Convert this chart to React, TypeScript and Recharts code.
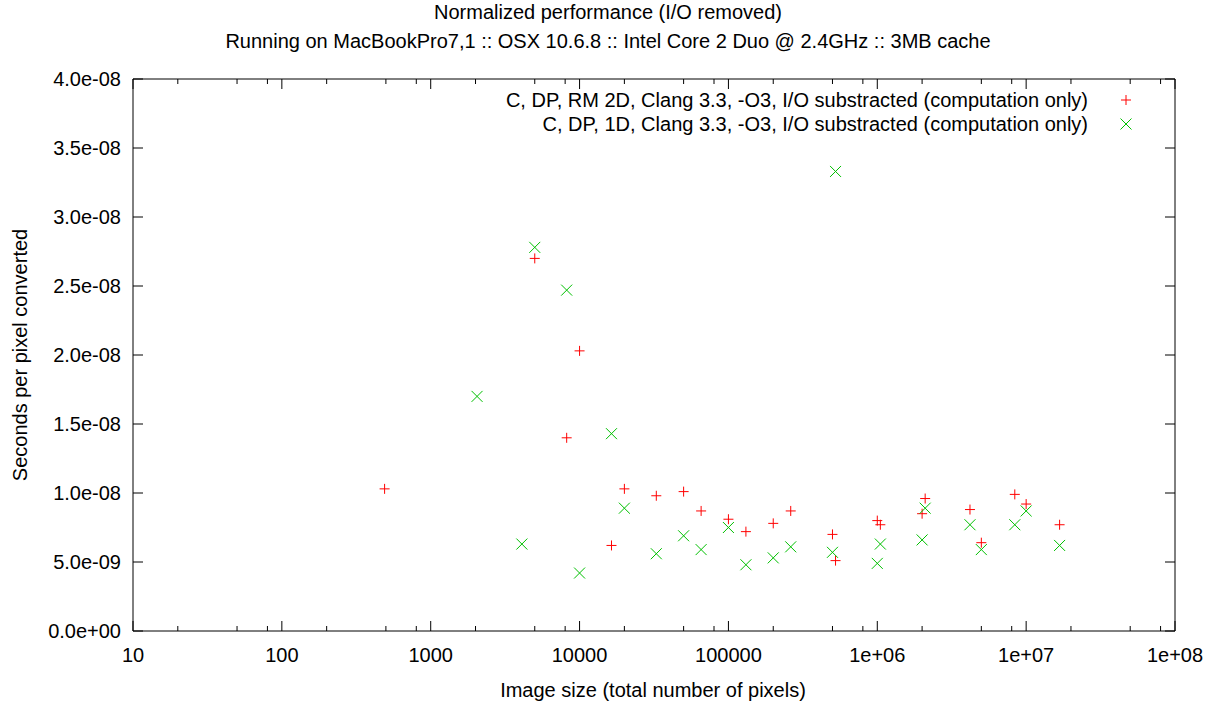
import { Legend, ReferenceArea, Scatter, ScatterChart, XAxis, YAxis } from "recharts";

const TITLE = "Normalized performance (I/O removed)";
const SUBTITLE = "Running on MacBookPro7,1 :: OSX 10.6.8 :: Intel Core 2 Duo @ 2.4GHz :: 3MB cache";
const X_LABEL = "Image size (total number of pixels)";
const Y_LABEL = "Seconds per pixel converted";

const SERIES_NAMES = [
  "C, DP, RM 2D, Clang 3.3, -O3, I/O substracted (computation only)",
  "C, DP, 1D, Clang 3.3, -O3, I/O substracted (computation only)",
];

// RM 2D run
const rm2dSizes = [
  490, 5000, 8192, 10000, 16384, 20000, 32768, 50000, 65536, 100000, 131072, 200000, 262144, 500000,
  524288, 1000000, 1048576, 2000000, 2097152, 4194304, 5000000, 8388608, 10000000, 16777216,
];
const rm2dSeconds = [
  1.03e-8, 2.7e-8, 1.4e-8, 2.03e-8, 6.2e-9, 1.03e-8, 9.8e-9, 1.01e-8, 8.7e-9, 8.1e-9, 7.2e-9, 7.8e-9,
  8.7e-9, 7.0e-9, 5.1e-9, 8.0e-9, 7.7e-9, 8.5e-9, 9.6e-9, 8.8e-9, 6.4e-9, 9.9e-9, 9.2e-9, 7.7e-9,
];

// 1D run
const oneDSizes = [
  2048, 4096, 5000, 8192, 10000, 16384, 20000, 32768, 50000, 65536, 100000, 131072, 200000, 262144,
  500000, 524288, 1000000, 1048576, 2000000, 2097152, 4194304, 5000000, 8388608, 10000000, 16777216,
];
const oneDSeconds = [
  1.7e-8, 6.3e-9, 2.78e-8, 2.47e-8, 4.2e-9, 1.43e-8, 8.9e-9, 5.6e-9, 6.9e-9, 5.9e-9, 7.5e-9, 4.8e-9,
  5.3e-9, 6.1e-9, 5.7e-9, 3.33e-8, 4.9e-9, 6.3e-9, 6.6e-9, 8.9e-9, 7.7e-9, 5.9e-9, 7.7e-9, 8.7e-9,
  6.2e-9,
];

const xMajorTicks = [10, 100, 1000, 10000, 100000, 1000000, 10000000, 100000000];
const xTickLabels = ["10", "100", "1000", "10000", "100000", "1e+06", "1e+07", "1e+08"];
const xMinorSteps = [2, 5, 8];
const yTicks = [0, 5e-9, 1e-8, 1.5e-8, 2e-8, 2.5e-8, 3e-8, 3.5e-8, 4e-8];
const yTickLabels = [
  "0.0e+00", "5.0e-09", "1.0e-08", "1.5e-08", "2.0e-08", "2.5e-08", "3.0e-08", "3.5e-08", "4.0e-08",
];

const rm2dData = rm2dSizes.map((x, i) => ({ x, y: rm2dSeconds[i] }));
const oneDData = oneDSizes.map((x, i) => ({ x, y: oneDSeconds[i] }));
const xTicks = [
  ...xMajorTicks,
  ...xMajorTicks.slice(0, -1).flatMap((d) => xMinorSteps.map((m) => m * d)),
].sort((a, b) => a - b);

const W = 1216;
const H = 704;
// axes get 1px of room each (CartesianAxis skips drawing at 0)
const MARGIN = { top: 79, right: 41, bottom: 72, left: 132 };
const PLOT_W = W - MARGIN.left - 1 - MARGIN.right;
const PLOT_H = H - MARGIN.top - MARGIN.bottom - 1;
const RED = "#ff0000";
const GREEN = "#00c000";
const FONT = "'Liberation Sans', Arial, Helvetica, sans-serif";

function PlusMark({ cx, cy }: any) {
  return <path d={`M${cx - 5},${cy}H${cx + 5}M${cx},${cy - 5}V${cy + 5}`} stroke={RED} strokeWidth={1} fill="none" />;
}

function CrossMark({ cx, cy }: any) {
  return (
    <path
      d={`M${cx - 5.5},${cy - 5.5}L${cx + 5.5},${cy + 5.5}M${cx - 5.5},${cy + 5.5}L${cx + 5.5},${cy - 5.5}`}
      stroke={GREEN}
      strokeWidth={1}
      fill="none"
    />
  );
}

function XTick({ x, y, payload }: any) {
  const idx = xMajorTicks.indexOf(payload.value);
  const len = idx >= 0 ? 10 : 5;
  return (
    <g>
      <line x1={x} x2={x} y1={y} y2={y - len} stroke="#000" />
      <line x1={x} x2={x} y1={y - PLOT_H} y2={y - PLOT_H + len} stroke="#000" />
      {idx >= 0 && (
        <text x={x} y={y + 31} textAnchor="middle" fontFamily={FONT} fontSize={20} fill="#000">
          {xTickLabels[idx]}
        </text>
      )}
    </g>
  );
}

function YTick({ x, y, index }: any) {
  return (
    <g>
      <line x1={x} x2={x + 10} y1={y} y2={y} stroke="#000" />
      <line x1={x + PLOT_W} x2={x + PLOT_W - 10} y1={y} y2={y} stroke="#000" />
      <text x={x - 12} y={y + 7} textAnchor="end" fontFamily={FONT} fontSize={20} fill="#000">
        {yTickLabels[index]}
      </text>
    </g>
  );
}

function LegendBox() {
  const marks = [PlusMark, CrossMark];
  return (
    <div style={{ fontFamily: FONT, fontSize: 20, color: "#000" }}>
      {SERIES_NAMES.map((name, i) => {
        const Mark = marks[i];
        return (
          <div key={name} style={{ display: "flex", justifyContent: "flex-end", alignItems: "center", height: 24 }}>
            <span style={{ whiteSpace: "nowrap" }}>{name}</span>
            <svg width={16} height={24} style={{ marginLeft: 30 }}>
              <Mark cx={8} cy={12} />
            </svg>
          </div>
        );
      })}
    </div>
  );
}

export default function App() {
  return (
    <div style={{ position: "absolute", left: 0, top: 0, width: W, height: H, background: "#fff", fontFamily: FONT }}>
      <div style={{ position: "absolute", left: 0, top: 0, width: W, textAlign: "center", fontSize: 20, lineHeight: "24px" }}>
        {TITLE}
      </div>
      <div style={{ position: "absolute", left: 0, top: 29, width: W, textAlign: "center", fontSize: 20, lineHeight: "24px" }}>
        {SUBTITLE}
      </div>
      <ScatterChart width={W} height={H} margin={MARGIN}>
        <XAxis
          dataKey="x"
          type="number"
          scale="log"
          domain={[10, 1e8]}
          allowDataOverflow
          ticks={xTicks}
          interval={0}
          height={1}
          tickSize={0}
          tickMargin={0}
          axisLine={false}
          tickLine={false}
          tick={(p: any) => <XTick {...p} />}
        />
        <YAxis
          dataKey="y"
          type="number"
          domain={[0, 4e-8]}
          allowDataOverflow
          ticks={yTicks}
          interval={0}
          width={1}
          tickSize={0}
          tickMargin={0}
          axisLine={false}
          tickLine={false}
          tick={(p: any) => <YTick {...p} />}
        />
        <ReferenceArea x1={10} x2={1e8} y1={0} y2={4e-8} fill="none" stroke="#000" strokeWidth={1} />
        <Legend
          layout="vertical"
          align="center"
          verticalAlign="middle"
          wrapperStyle={{ left: "auto", right: 82, top: 88, width: "auto" }}
          content={() => <LegendBox />}
        />
        <Scatter name={SERIES_NAMES[0]} data={rm2dData} fill={RED} shape={(p: any) => <PlusMark {...p} />} isAnimationActive={false} />
        <Scatter name={SERIES_NAMES[1]} data={oneDData} fill={GREEN} shape={(p: any) => <CrossMark {...p} />} isAnimationActive={false} />
      </ScatterChart>
      <div style={{ position: "absolute", left: MARGIN.left, top: 678, width: PLOT_W, textAlign: "center", fontSize: 20, lineHeight: "24px" }}>
        {X_LABEL}
      </div>
      <div
        style={{
          position: "absolute",
          left: 20 - 200,
          top: MARGIN.top + PLOT_H / 2 - 12,
          width: 400,
          textAlign: "center",
          fontSize: 20,
          lineHeight: "24px",
          transform: "rotate(-90deg)",
        }}
      >
        {Y_LABEL}
      </div>
    </div>
  );
}
